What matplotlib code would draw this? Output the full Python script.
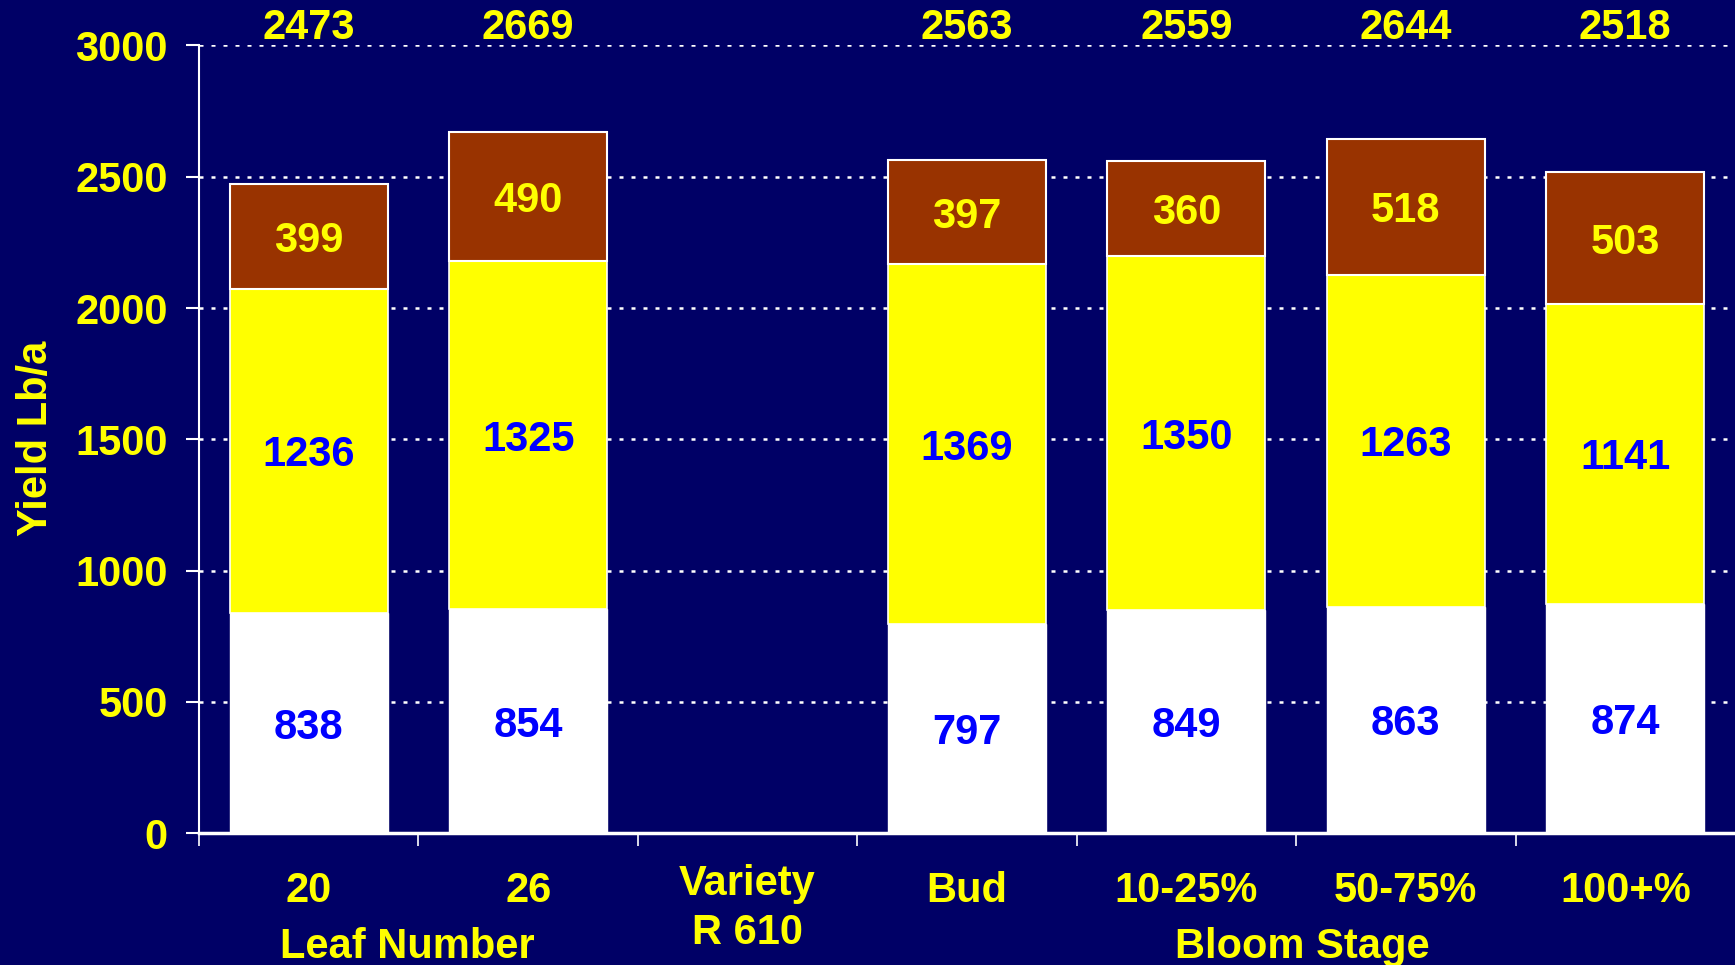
import matplotlib
matplotlib.use("Agg")
import matplotlib.pyplot as plt
import numpy as np

# Yield components (Lb/a) per treatment
categories = ["20", "26", "Variety\nR 610", "Bud", "10-25%", "50-75%", "100+%"]
bottom_part = [838, 854, 0, 797, 849, 863, 874]
middle_part = [1236, 1325, 0, 1369, 1350, 1263, 1141]
top_part = [399, 490, 0, 397, 360, 518, 503]
totals = [2473, 2669, None, 2563, 2559, 2644, 2518]
group_names = ["Leaf Number", "Bloom Stage"]
group_spans = [(0, 1), (3, 6)]

navy = "#000066"
yellow = "#FFFF00"
brown = "#993300"
blue = "#0000FF"

plt.rcParams["font.family"] = ["Liberation Sans", "DejaVu Sans"]
plt.rcParams["font.weight"] = "bold"
fs = 30

fig = plt.figure(figsize=(17.35, 9.65), dpi=100, facecolor=navy)
ax = fig.add_axes([199 / 1735, 1 - 833.3 / 965, 1 - 199 / 1735, (833.3 - 45.4) / 965])
ax.set_facecolor(navy)

x = np.arange(len(categories))
b = np.array(bottom_part)
m = np.array(middle_part)
t = np.array(top_part)
has = b + m + t > 0
w = 0.72

ax.bar(x[has], b[has], w, color="white", edgecolor="white", lw=1, zorder=3)
ax.bar(x[has], m[has], w, bottom=b[has], color=yellow, edgecolor="white", lw=1.2, zorder=3)
ax.bar(x[has], t[has], w, bottom=(b + m)[has], color=brown, edgecolor="white", lw=1.5, zorder=3)

for i in x[has]:
    ax.text(i, b[i] / 2, str(b[i]), color=blue, fontsize=fs, ha="center",
            va="center_baseline", zorder=4)
    ax.text(i, b[i] + m[i] / 2, str(m[i]), color=blue, fontsize=fs, ha="center",
            va="center_baseline", zorder=4)
    ax.text(i, b[i] + m[i] + t[i] / 2, str(t[i]), color=yellow, fontsize=fs,
            ha="center", va="center_baseline", zorder=4)
    ax.text(i, 3024, str(totals[i]), color=yellow, fontsize=fs, ha="center",
            va="baseline", clip_on=False)

ax.set_xlim(-0.5, len(categories) - 0.5)
ax.set_ylim(0, 3000)
ax.set_yticks(range(0, 3001, 500))
ax.set_xticks(np.arange(-0.5, len(categories) - 1, 1.0))
ax.set_xticklabels([])

ax.tick_params(axis="y", colors="white", labelcolor=yellow, labelsize=fs,
               length=9.5, width=1.5, pad=13)
ax.tick_params(axis="x", colors="white", length=9, width=1.2, direction="out")

for s in ["top", "right"]:
    ax.spines[s].set_visible(False)
ax.spines["left"].set_color("white")
ax.spines["left"].set_linewidth(1.5)
ax.spines["bottom"].set_color("white")
ax.spines["bottom"].set_linewidth(2.5)

ax.yaxis.grid(True, color="white", lw=1.8, linestyle=(0, (1.6, 3.2)), zorder=1)
ax.set_axisbelow(True)
# keep the 0 gridline hidden under the axis
ax.get_ygridlines()[0].set_visible(False)

# category labels under the axis
for i, lab in enumerate(categories):
    if "\n" in lab:
        # baseline of the last line
        ax.text(i, -421, lab, color=yellow, fontsize=fs, ha="center", va="baseline",
                linespacing=1.3, clip_on=False)
    else:
        ax.text(i, -262, lab, color=yellow, fontsize=fs, ha="center", va="baseline",
                clip_on=False)

for name, (a, c) in zip(group_names, group_spans):
    ax.text((a + c) / 2 + (0.03 if a > 0 else -0.05), -474, name, color=yellow,
            fontsize=fs, ha="center", va="baseline", clip_on=False)

fig.text(56 / 1735, 1 - 438 / 965, "Yield Lb/a", color=yellow, fontsize=fs,
         rotation=90, ha="right", va="center")

fig.savefig("out.png", dpi=100, facecolor=navy)
